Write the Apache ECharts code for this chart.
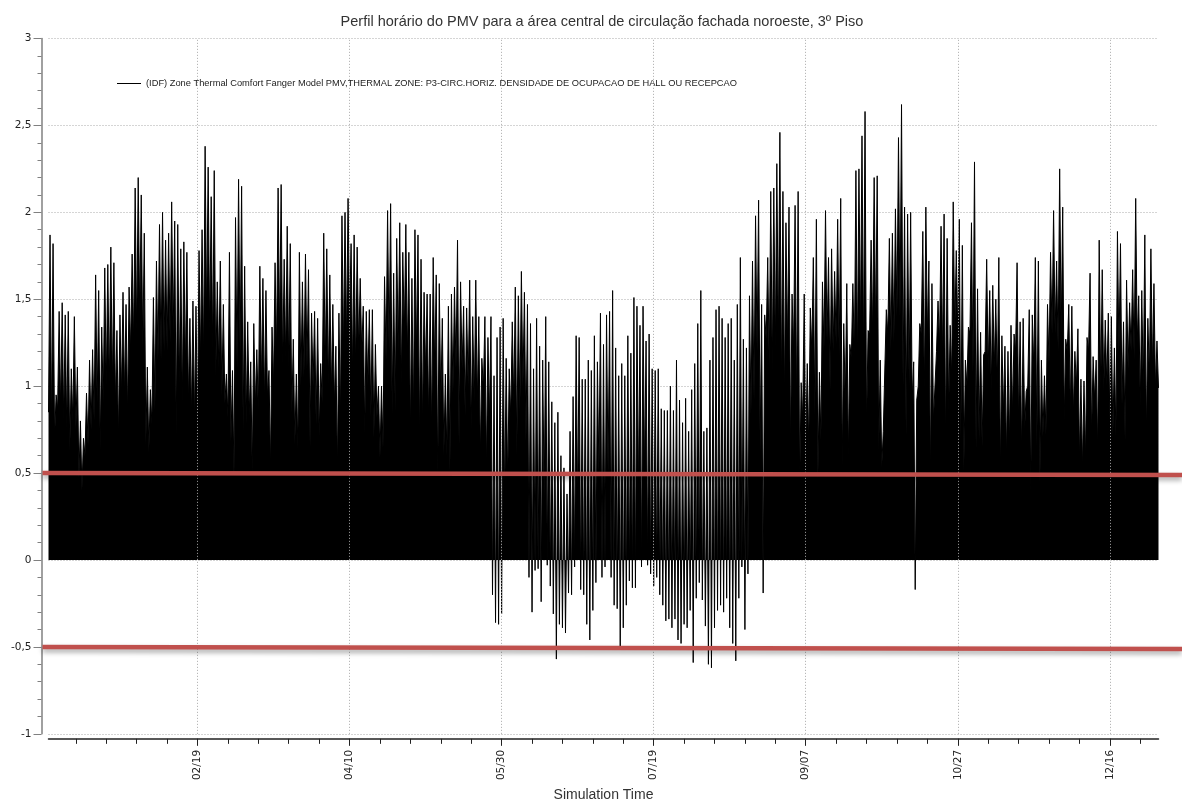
<!DOCTYPE html>
<html>
<head>
<meta charset="utf-8">
<script src="https://cdn.jsdelivr.net/npm/echarts@6/dist/echarts.min.js"></script>
<style>
  html, body { margin: 0; padding: 0; background: #ffffff; }
  #chart { width: 1182px; height: 807px; }
</style>
</head>
<body>
<div id="chart"></div>
<script>
// Hourly PMV, summarised per simulation day (day 0 = 01/01): the afternoon peak and the night low.
const seriesName = '(IDF) Zone Thermal Comfort Fanger Model PMV,THERMAL ZONE: P3-CIRC.HORIZ. DENSIDADE DE OCUPACAO DE HALL OU RECEPCAO';

const dayPeak = [
  1.87,1.82,0.95,1.43,1.48,1.41,1.43,1.10,1.40,1.11,
  0.80,0.70,0.96,1.15,1.21,1.64,1.55,1.34,1.68,1.70,
  1.80,1.71,1.32,1.41,1.54,1.47,1.57,1.76,2.14,2.20,
  2.10,1.88,1.11,0.98,1.51,1.72,1.93,2.00,1.84,1.88,
  2.06,1.95,1.93,1.79,1.83,1.77,1.39,1.49,1.46,1.78,
  1.90,2.38,2.26,2.09,2.24,1.60,1.72,1.47,1.07,1.77,
  1.09,1.97,2.19,2.15,1.69,1.37,1.14,1.36,1.21,1.69,
  1.62,1.55,1.09,1.34,1.71,2.14,2.16,1.73,1.92,1.82,
  1.27,1.07,1.77,1.60,1.76,1.67,1.42,1.43,1.39,1.13,
  1.88,1.79,1.64,1.47,1.23,1.42,1.98,2.00,2.08,1.82,
  1.87,1.80,1.62,1.46,1.43,1.44,1.44,1.24,1.00,1.00,
  1.63,2.01,2.05,1.65,1.85,1.94,1.77,1.93,1.77,1.62,
  1.90,1.87,1.73,1.54,1.53,1.53,1.74,1.64,1.59,1.39,
  1.07,1.46,1.53,1.57,1.84,1.60,1.46,1.45,1.61,1.40,
  1.61,1.40,1.16,1.40,1.28,1.40,1.06,1.28,1.34,1.39,
  1.16,1.10,1.37,1.57,1.52,1.66,1.54,1.47,1.36,1.10,
  1.39,1.23,1.15,1.40,1.14,0.91,0.79,0.85,0.60,0.53,
  0.38,0.74,0.94,1.29,1.28,1.04,1.04,1.15,1.09,1.29,
  1.14,1.42,1.24,1.41,1.43,1.55,1.22,1.06,1.13,1.06,
  1.29,1.19,1.51,1.46,1.35,1.46,1.26,1.30,1.10,1.09,
  1.10,0.87,0.86,0.86,1.00,0.86,1.15,0.92,0.79,0.93,
  0.74,0.98,1.13,1.36,1.55,0.74,0.76,1.15,1.28,1.44,
  1.46,1.39,1.28,1.36,1.39,1.15,1.47,1.74,1.27,1.22,
  1.52,1.72,1.98,2.07,1.47,1.41,1.74,2.12,2.14,2.28,
  2.46,2.12,1.94,2.03,1.53,2.04,2.12,1.02,1.53,1.13,
  1.45,1.74,1.96,1.08,1.60,2.01,1.74,1.79,1.66,1.96,
  2.08,1.36,1.59,1.24,1.59,2.24,2.25,2.44,2.58,1.32,
  1.84,2.20,2.21,1.15,0.74,1.44,1.85,1.88,2.02,2.43,
  2.62,2.03,1.99,2.00,1.14,0.92,1.36,1.89,2.03,1.72,
  1.59,1.00,1.49,1.92,1.99,1.85,1.35,2.06,1.78,1.96,
  1.81,1.15,1.34,1.94,2.29,1.56,1.31,1.18,1.73,1.55,
  1.58,1.50,1.74,1.29,1.23,1.20,1.35,1.30,1.71,1.37,
  1.39,0.97,1.44,1.41,1.74,1.72,1.15,1.06,1.47,1.77,
  2.01,1.72,2.25,2.03,1.27,1.47,1.46,1.20,1.33,1.04,
  1.03,1.28,1.65,1.17,1.15,1.84,1.67,1.38,1.42,1.40,
  1.22,1.89,1.82,1.37,1.61,1.48,1.67,2.08,1.52,1.55,
  1.87,1.39,1.79,1.59,1.26
];

const dayLow = [
  0.85,0.79,0.69,0.87,0.87,0.80,0.75,0.62,0.80,0.75,
  0.47,0.40,0.60,0.66,0.75,0.80,0.90,0.63,0.90,1.00,
  1.00,1.00,0.90,0.70,0.95,0.95,0.84,1.20,1.25,1.30,
  1.40,1.20,0.66,0.62,0.78,0.86,1.15,1.15,1.20,1.20,
  1.25,1.30,0.71,1.00,0.89,1.10,0.90,0.82,0.80,0.80,
  1.15,1.16,1.40,1.30,1.20,1.05,1.10,0.94,0.90,0.82,
  0.68,0.47,1.10,1.18,0.74,0.78,0.83,0.48,0.88,0.85,
  1.00,0.90,0.94,0.53,1.00,1.20,1.30,1.10,1.15,1.10,
  0.84,0.66,0.64,1.00,1.05,1.10,0.65,1.00,0.78,0.71,
  0.90,1.10,1.00,0.95,0.89,0.51,0.81,1.20,1.25,1.39,
  1.07,1.10,1.20,1.20,0.72,1.00,0.82,0.70,0.82,0.59,
  0.64,1.15,1.20,0.84,0.85,1.20,1.00,1.30,1.16,0.72,
  0.83,1.20,0.69,0.77,1.08,0.80,0.72,1.09,0.44,0.90,
  0.60,0.60,0.50,0.96,1.10,0.66,1.10,0.83,1.00,0.75,
  0.90,0.90,0.59,0.98,0.52,0.81,-0.20,-0.36,-0.37,-0.31,
  0.32,0.44,0.82,0.90,0.60,0.85,1.00,0.68,-0.10,-0.30,
  -0.06,-0.05,-0.24,0.35,-0.03,-0.15,-0.31,-0.57,-0.37,-0.39,
  -0.42,-0.19,-0.20,-0.04,0.30,-0.17,-0.20,-0.37,-0.46,-0.29,
  -0.13,0.50,-0.10,-0.04,0.50,-0.10,-0.26,-0.28,-0.50,-0.39,
  -0.26,-0.12,-0.16,-0.16,0.40,-0.04,0.50,-0.03,-0.08,-0.15,
  -0.10,-0.20,-0.26,-0.35,-0.34,-0.39,-0.34,-0.46,-0.48,-0.37,
  -0.39,-0.29,-0.59,-0.22,-0.13,-0.23,-0.38,-0.60,-0.62,-0.39,
  -0.29,-0.26,-0.30,-0.22,-0.39,-0.48,-0.58,-0.22,-0.04,-0.40,
  -0.08,0.84,0.92,1.20,0.62,-0.19,1.27,1.10,1.08,1.20,
  1.26,1.00,0.93,1.23,0.64,1.20,0.88,0.41,0.81,0.66,
  0.64,1.20,0.83,0.46,0.69,1.20,1.26,0.98,1.20,1.24,
  1.17,0.53,0.90,0.58,1.16,1.16,1.15,1.30,1.17,0.75,
  1.30,1.30,1.30,0.62,0.53,0.73,1.30,1.20,1.25,1.40,
  1.39,1.00,0.71,1.00,0.92,-0.17,1.00,1.30,0.95,1.29,
  0.47,0.80,1.20,1.24,1.16,0.65,0.84,1.05,1.30,1.30,
  0.69,0.51,1.00,1.30,1.08,0.64,0.69,0.65,1.20,1.09,
  0.97,1.10,1.00,0.50,0.84,0.59,0.68,0.84,1.20,0.78,
  0.60,0.75,1.00,0.39,1.10,0.65,0.44,0.71,0.72,1.13,
  1.30,1.30,1.20,1.30,0.80,1.20,0.85,0.83,1.00,0.58,
  0.53,0.59,1.20,0.70,0.92,0.62,0.97,0.97,1.00,0.80,
  0.71,0.71,1.20,0.89,0.69,1.10,1.20,1.15,1.25,0.88,
  0.98,0.71,1.05,1.10,0.99
];

// Dated tick labels on the time axis (day index -> MM/DD) and the 10-day minor ticks.
const labelDays  = [49, 99, 149, 199, 249, 299, 349];
const labelTexts = ['02/19', '04/10', '05/30', '07/19', '09/07', '10/27', '12/16'];
const minorTickDays = [9, 19, 29, 39, 49, 59, 69, 79, 89, 99, 109, 119, 129, 139, 149, 159, 169, 179,
  189, 199, 209, 219, 229, 239, 249, 259, 269, 279, 289, 299, 309, 319, 329, 339, 349, 359];

// Comfort band limits drawn in red.
const comfortLimits = [0.5, -0.5];

// Sawtooth path: night low at the start of each day, afternoon peak half a day later.
const points = [];
for (let d = 0; d < dayPeak.length; d++) {
  points.push([d, dayLow[d]]);
  points.push([d + 0.5, dayPeak[d]]);
}
points.push([dayPeak.length, dayLow[dayLow.length - 1]]);

const chart = echarts.init(document.getElementById('chart'), null, { renderer: 'canvas' });

const option = {
  animation: false,
  backgroundColor: '#ffffff',
  title: {
    text: 'Perfil horário do PMV para a área central de circulação fachada noroeste, 3º Piso',
    left: 597, top: 9, textAlign: 'center',
    textStyle: { fontFamily: 'Liberation Sans', fontSize: 14.5, fontWeight: 'normal', color: '#333333' }
  },
  legend: {
    left: 112, top: 74,
    itemWidth: 24, itemHeight: 10, itemGap: 0,
    icon: 'path://M0,9L24,9L24,10L0,10Z',
    textStyle: { fontFamily: 'Liberation Sans', fontSize: 9.3, color: '#222222' },
    data: [{ name: seriesName, itemStyle: { color: '#000000' } }]
  },
  grid: { left: 48.5, right: 23.5, top: 38.5, bottom: 69.5, containLabel: false },
  xAxis: [
    {
      type: 'value', min: 0, max: 365, offset: 5, position: 'bottom',
      axisLine: { show: true, onZero: false, lineStyle: { color: '#222222', width: 1.5 } },
      axisTick: { show: true, customValues: minorTickDays, length: 5, lineStyle: { color: '#222222' } },
      axisLabel: {
        customValues: labelDays, rotate: 90, margin: 11,
        formatter: v => labelTexts[labelDays.indexOf(Math.round(v))] || '',
        fontFamily: 'DejaVu Sans', fontSize: 10.5, color: '#222222'
      },
      splitLine: { show: false },
      name: 'Simulation Time', nameLocation: 'middle', nameGap: 48,
      nameTextStyle: { fontFamily: 'Liberation Sans', fontSize: 14, color: '#333333' }
    },
    {
      type: 'value', min: 0, max: 365, offset: 5, position: 'bottom',
      axisLine: { show: false, onZero: false },
      axisTick: { show: true, customValues: labelDays, length: 7, lineStyle: { color: '#222222' } },
      axisLabel: { show: false },
      splitLine: { show: false }
    }
  ],
  yAxis: {
    type: 'value', min: -1, max: 3, interval: 0.5, offset: 7, position: 'left',
    axisLine: { show: true, onZero: false, lineStyle: { color: '#808080', width: 1.5 } },
    axisTick: { show: true, length: 8, lineStyle: { color: '#808080' } },
    minorTick: { show: true, splitNumber: 5, length: 4, lineStyle: { color: '#808080' } },
    axisLabel: {
      margin: 10,
      formatter: v => String(v).replace('.', ','),
      fontFamily: 'DejaVu Sans', fontSize: 10.5, color: '#222222'
    },
    splitLine: { show: true, lineStyle: { type: [1, 2], color: '#aaaaaa', width: 1 } }
  },
  series: [
    {
      type: 'line', name: 'dateGrid', xAxisIndex: 0, data: [], z: 1, silent: true,
      markLine: {
        silent: true, symbol: 'none', label: { show: false },
        lineStyle: { type: [1, 2], color: '#aaaaaa', width: 1 },
        data: labelDays.map(d => ({ xAxis: d }))
      }
    },
    {
      type: 'line', name: seriesName, xAxisIndex: 0, data: points, z: 3,
      showSymbol: false, symbol: 'none', sampling: null,
      lineStyle: { color: '#000000', width: 1 },
      itemStyle: { color: '#000000' },
      areaStyle: { color: '#000000', opacity: 1 }
    }
  ]
};

chart.setOption(option);

// Red comfort-limit lines, placed on the PMV scale and run across the full width.
const axisX = chart.convertToPixel({ xAxisIndex: 0 }, 0) - 7;
const tiltPx = 2;
chart.setOption({
  graphic: comfortLimits.map(v => {
    const y = chart.convertToPixel({ yAxisIndex: 0 }, v);
    return {
      type: 'line', z: 100, silent: true,
      shape: { x1: axisX + 1, y1: y, x2: 1182, y2: y + tiltPx },
      style: {
        stroke: '#c0504d', lineWidth: 4.5,
        shadowBlur: 5, shadowOffsetY: 3, shadowColor: 'rgba(0,0,0,0.35)'
      }
    };
  })
});
</script>
</body>
</html>
